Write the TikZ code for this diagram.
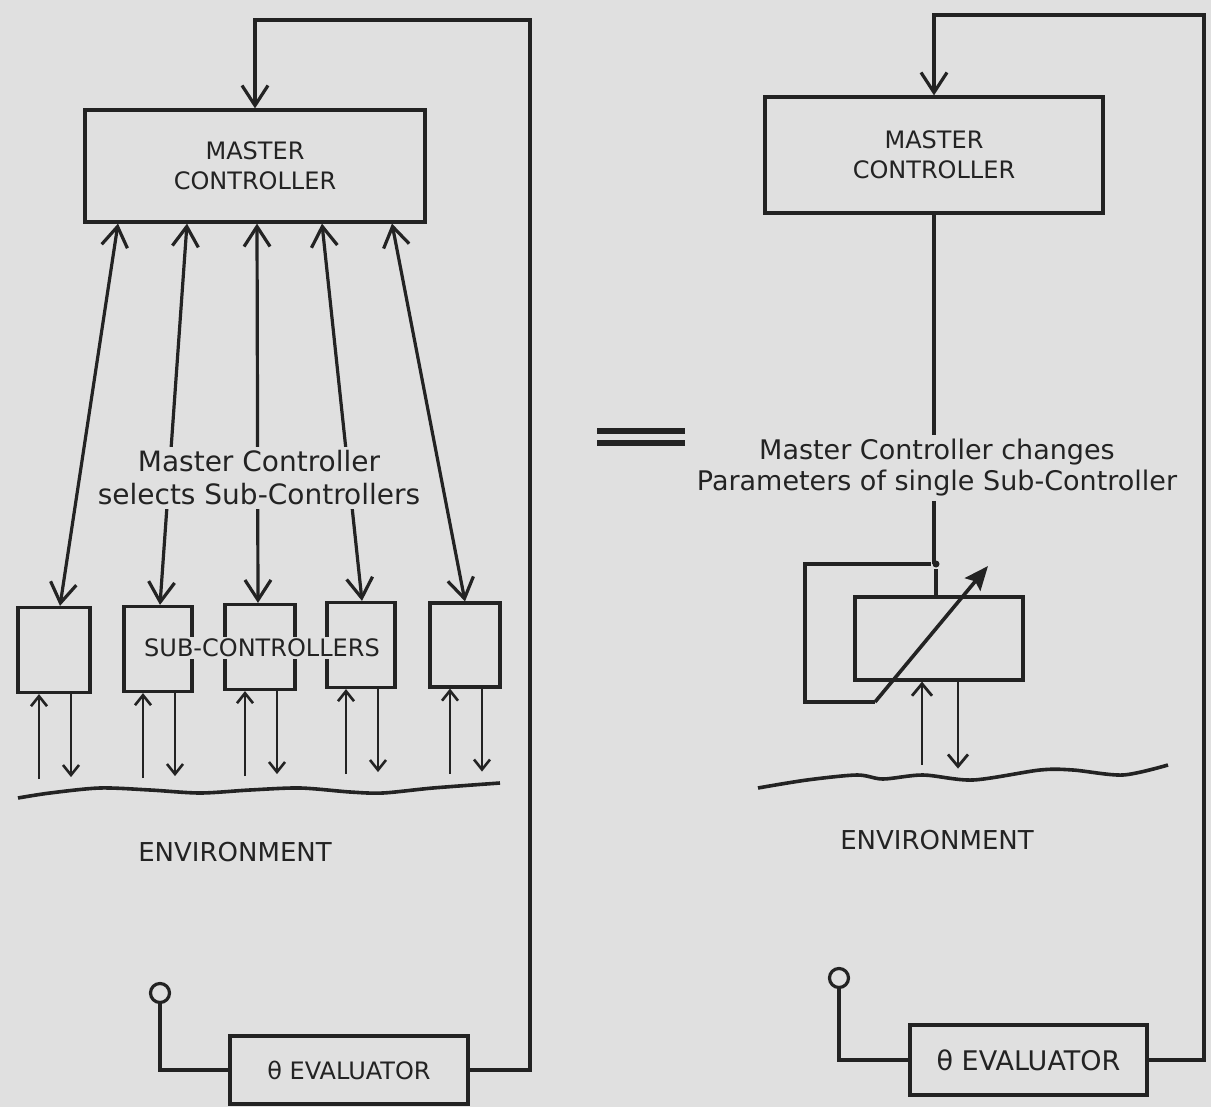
\documentclass[tikz,border=0pt]{standalone}
\usepackage{fontspec}
\setmainfont{DejaVu Sans}
\usetikzlibrary{arrows.meta,calc}
\definecolor{bg}{RGB}{224,224,224}
\definecolor{ink}{RGB}{35,35,35}
\begin{document}
\begin{tikzpicture}[x=0.5pt,y=-0.5pt,line width=1.6pt,color=ink,
  box/.style={draw,rectangle,inner sep=0pt},
  lbl/.style={fill=bg,inner sep=2pt,align=center},
  bigarr/.style={-{Straight Barb[length=10pt,width=13pt]}},
  dblarr/.style={{Straight Barb[length=10pt,width=13pt]}-{Straight Barb[length=10pt,width=13pt]}},
  smarr/.style={line width=1.3pt,-{Straight Barb[length=5pt,width=8pt]}},
  medarr/.style={line width=1.4pt,-{Straight Barb[length=6pt,width=10pt]}},
  diagarr/.style={line width=1.8pt,-{Stealth[length=12pt,width=10pt,inset=2pt]}},
  wave/.style={line width=1.8pt},
  capsf/.style={font=\fontsize{12}{15}\selectfont},
  port/.style={circle,draw,inner sep=0pt,minimum size=9.5pt}]
\useasboundingbox (0,0) rectangle (1211,1107);
\fill[bg] (0,0) rectangle (1211,1107);

% ---------------- LEFT ----------------
\node[box,capsf,align=center,minimum width=170pt,minimum height=56pt] (mcL) at (255,166) {MASTER\\CONTROLLER};

\node[box,minimum width=36pt,minimum height=42.5pt] (b1) at (54,650) {};
\node[box,minimum width=34pt,minimum height=42.5pt] (b2) at (158,649) {};
\node[box,minimum width=35pt,minimum height=42.5pt] (b3) at (260,647) {};
\node[box,minimum width=34pt,minimum height=42.5pt] (b4) at (361,645) {};
\node[box,minimum width=35pt,minimum height=42pt] (b5) at (465,645) {};

\coordinate (t1) at (118,0); \coordinate (u1) at (60,0);
\coordinate (t2) at (187,0); \coordinate (u2) at (160,0);
\coordinate (t3) at (257,0); \coordinate (u3) at (258,0);
\coordinate (t4) at (322,0); \coordinate (u4) at (362,0);
\coordinate (t5) at (392,0); \coordinate (u5) at (465,0);
\foreach \i in {1,...,5}{
  \draw[dblarr] (mcL.south -| t\i) -- (b\i.north -| u\i);
}
\node[lbl,font=\fontsize{14}{16.5}\selectfont] (selt) at (259,478) {Master Controller\\selects Sub-Controllers};

\foreach \i in {1,...,5}{
  \draw[smarr] ($(b\i.south)+(-15,85)$) -- ($(b\i.south)+(-15,0)$);
  \draw[smarr] ($(b\i.south)+(17,0)$) -- ++(0,83);
}
\node[capsf,fill=bg,inner sep=1pt] (subt) at (262,648) {SUB-CONTROLLERS};

\draw[wave] plot[smooth] coordinates {(18,798) (50,793) (100,788) (150,790) (200,793) (250,790) (300,788) (350,792) (383,793) (433,788) (500,783)};
\node[font=\fontsize{13}{15}\selectfont] (envL) at (235,852) {ENVIRONMENT};

\node[port] (cL) at (160,993) {};
\node[box,font=\fontsize{12}{14}\selectfont,minimum width=119pt,minimum height=34pt] (evL) at (349,1070) {θ EVALUATOR};
\draw (cL.south) |- (evL.west);
\coordinate (fbL) at (530,20);
\draw[bigarr] (evL.east) -| (fbL) -| (mcL.north);

% ---------------- EQUALS ----------------
\draw[line width=2.6pt] (597,431) -- (685,431);
\draw[line width=2.6pt] (597,443) -- (685,443);

% ---------------- RIGHT ----------------
\node[box,capsf,align=center,minimum width=169pt,minimum height=58pt] (mcR) at (934,155) {MASTER\\CONTROLLER};
\node[box,minimum width=84pt,minimum height=41.5pt] (sub) at (939,638.5) {};
\node[circle,fill=ink,inner sep=0pt,minimum size=3.5pt] (dot) at (936,564) {};
\draw (mcR.south) -- (mcR.south |- dot);
\draw (dot) -- (sub.north -| dot);
\node[lbl,font=\fontsize{13.5}{15.5}\selectfont] (chg) at (937,468) {Master Controller changes\\Parameters of single Sub-Controller};
\draw (dot) -| ++(-131,138) -- ++(70,0) coordinate (dg);
\draw[diagarr] (dg) -- ++(113,-136);

\draw[medarr] ($(sub.south)+(-17,83)$) -- ($(sub.south)+(-17,0)$);
\draw[medarr] ($(sub.south)+(19,0)$) -- ++(0,87);

\draw[wave] plot[smooth] coordinates {(758,788) (807,780) (857,775) (883,779) (923,775) (973,780) (1040,770) (1073,770) (1123,775) (1168,765)};
\node[font=\fontsize{13}{15}\selectfont] (envR) at (937,840) {ENVIRONMENT};

\node[port] (cR) at (839,978) {};
\node[box,font=\fontsize{13.5}{15}\selectfont,minimum width=118.5pt,minimum height=35pt] (evR) at (1028.5,1060) {θ EVALUATOR};
\draw (cR.south) |- (evR.west);
\coordinate (fbR) at (1204,15);
\draw[bigarr] (evR.east) -| (fbR) -| (mcR.north);
\end{tikzpicture}
\end{document}
